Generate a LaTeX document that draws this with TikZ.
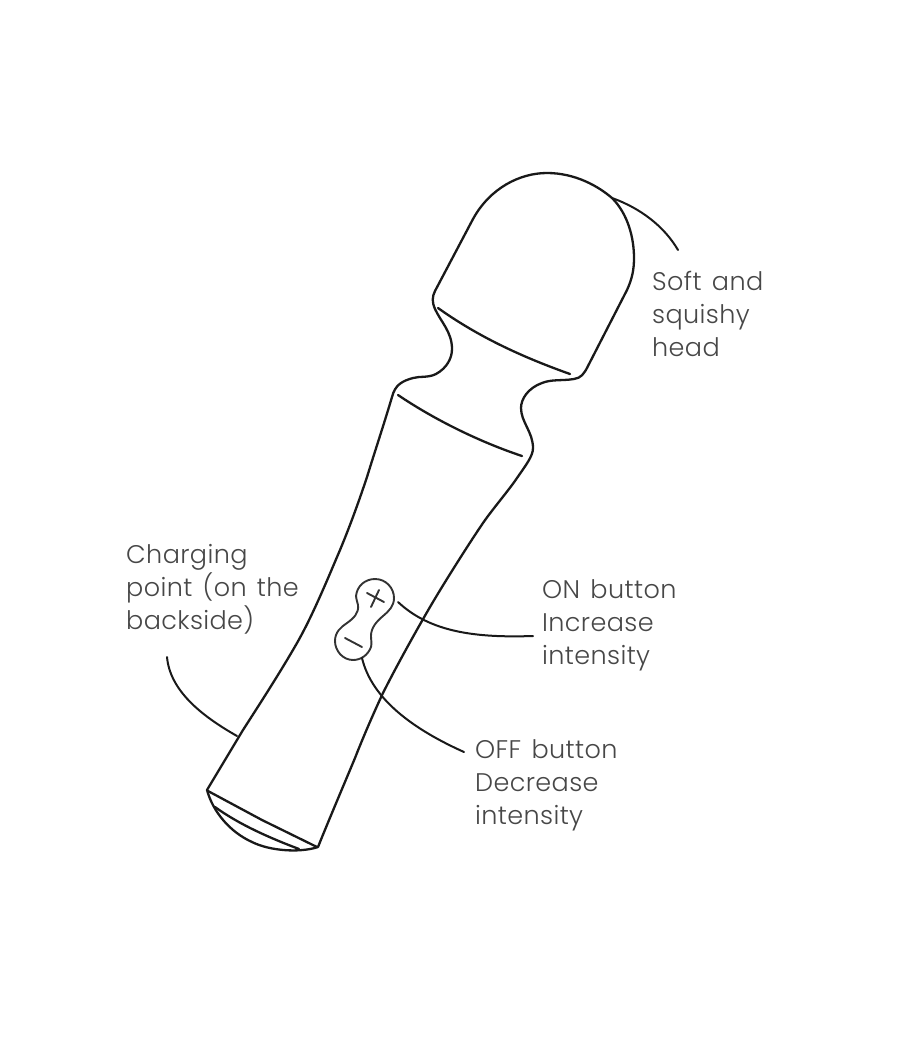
\documentclass[tikz,border=0pt]{standalone}
\usepackage{fontspec}
\setmainfont[WordSpace=1.4,LetterSpace=1.5]{Poppins Light}
\tikzset{
  outline/.style={line width=2.3pt, draw=black!90, line join=round, line cap=round},
  thinline/.style={line width=1.9pt, draw=black!80, line cap=round},
  leader/.style={line width=2pt, draw=black!90, line cap=round},
  caption/.style={anchor=west, align=left, inner sep=0pt, text=black!72,
    font=\fontsize{25.5}{33}\selectfont}
}
\begin{document}
\begin{tikzpicture}[x=1pt,y=-1pt]
\useasboundingbox (0,0) rectangle (900,1050);

% Anchor points of the callout lines
\coordinate (headEdge) at (612,198);
\coordinate (headEnd) at (678,250);
\coordinate (onStart) at (398,602);
\coordinate (onEnd) at (533,636);
\coordinate (offStart) at (362,658);
\coordinate (offEnd) at (464,752);
\coordinate (chargeStart) at (237,736);
\coordinate (chargeEnd) at (167,657);

% Body silhouette
\draw[outline]
  (435,291) -- (473,219)
  .. controls (490,188) and (520,173) .. (547,173)
  .. controls (575,173) and (598,186) .. (612,198)
  .. controls (628,214) and (634,238) .. (634,258)
  .. controls (634,270) and (632,279) .. (627,290)
  -- (588,366)
  .. controls (584,374) and (581,378) .. (574,379)
  .. controls (562,381) and (552,379) .. (542,383)
  .. controls (528,388) and (521,399) .. (521,408)
  .. controls (521,422) and (533,432) .. (533,448)
  .. controls (533,456) and (526,465) .. (517,478)
  .. controls (509,490) and (493,508.5) .. (483,523)
  .. controls (470,542) and (444,583) .. (430,607)
  .. controls (416,631) and (396,667) .. (383,693)
  .. controls (375,710) and (364,735) .. (355,758)
  .. controls (345,782) and (328,822) .. (318,847)
  .. controls (300,853) and (270,851) .. (252,842)
  .. controls (230,832) and (213,812) .. (207,790)
  -- (243,730)
  .. controls (261,702) and (281,671) .. (297,643)
  .. controls (313,615) and (328,578) .. (340,550)
  .. controls (350,526) and (359,501) .. (367,477)
  .. controls (375,451) and (384,424) .. (392,397)
  .. controls (395,385) and (402,381) .. (413,378)
  .. controls (420,376) and (428,378) .. (436,374)
  .. controls (447,368) and (452,358) .. (452,349)
  .. controls (452,332) and (441,322) .. (435,309)
  .. controls (432,302) and (432,297) .. (435,291)
  -- cycle;

% Seams around the head, the neck and the base
\draw[outline] (438,308) .. controls (480,338) and (525,358) .. (570,374);
\draw[outline] (398,395) .. controls (435,420) and (480,442) .. (522,456);
\draw[outline] (208,791) -- (262,820) -- (317,847);
\draw[outline] (215,807) .. controls (240,825) and (270,838) .. (299,849);

% Intensity button pad
\draw[thinline]
  (375,579)
  .. controls (386,579) and (394,588) .. (394,598)
  .. controls (394,606) and (389,611) .. (383,616)
  .. controls (376,622) and (371,628) .. (371,636)
  .. controls (371,640) and (372,643) .. (371,647)
  .. controls (368,655) and (361,660) .. (353,660)
  .. controls (343,660) and (335,651) .. (335,641)
  .. controls (335,632) and (341,627) .. (347,623)
  .. controls (354,618) and (359,613) .. (358,605)
  .. controls (357,601) and (356,598) .. (356,596)
  .. controls (357,586) and (365,579) .. (375,579)
  -- cycle;
\draw[thinline] (367,593) -- (384,602);
\draw[thinline] (379,590) -- (371,607);
\draw[thinline] (345,638) -- (362,647);

% Callout lines
\draw[leader] (headEdge) .. controls (640,208) and (664,226) .. (headEnd);
\draw[leader] (onStart) .. controls (430,632) and (475,638) .. (onEnd);
\draw[leader] (offStart) .. controls (372,700) and (415,730) .. (offEnd);
\draw[leader] (chargeStart) .. controls (200,715) and (170,690) .. (chargeEnd);

% Captions
\node[caption] (softText) at (652,314) {Soft and\\squishy\\head};
\node[caption] (onText) at (542,625) {ON button\\Increase\\intensity};
\node[caption] (offText) at (475,785) {OFF button\\Decrease\\intensity};
\node[caption] (chargeText) at (126,589) {Charging\\point (on the\\backside)};
\end{tikzpicture}
\end{document}
